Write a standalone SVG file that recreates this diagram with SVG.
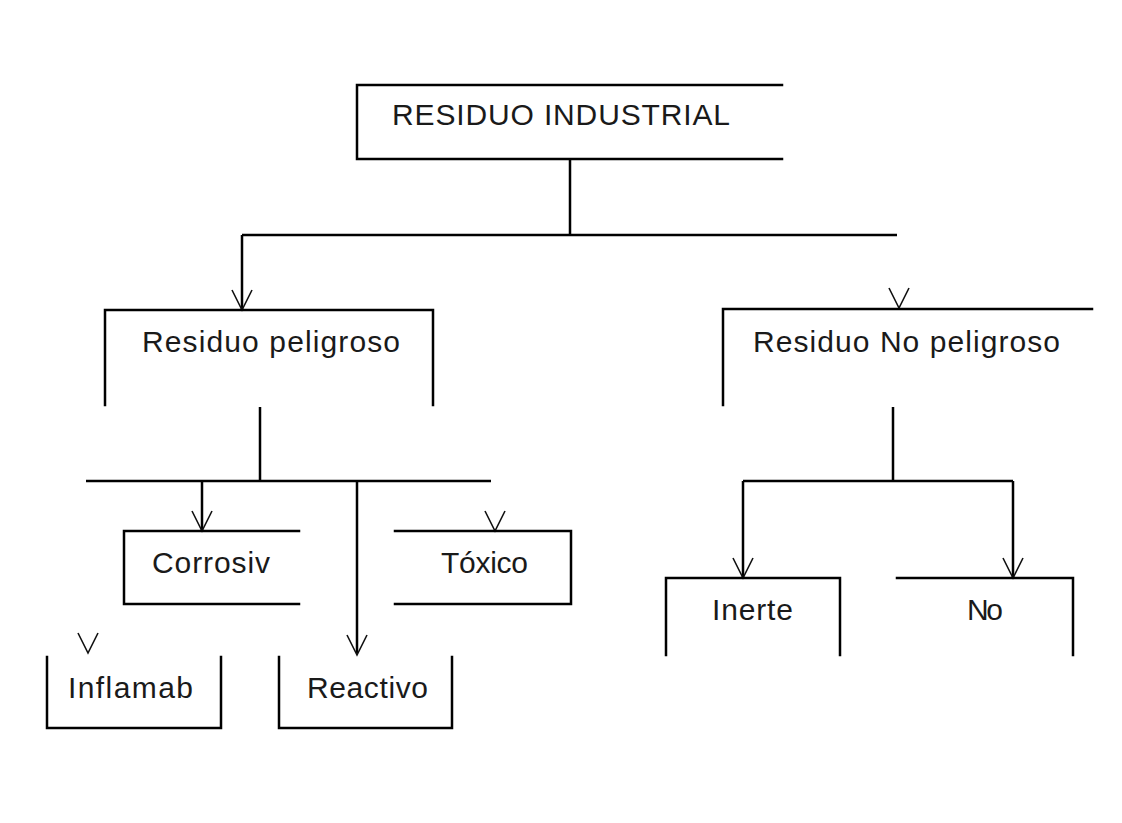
<svg xmlns="http://www.w3.org/2000/svg" width="1122" height="823" viewBox="0 0 1122 823">
<style>
.b{fill:none;stroke:#000;stroke-width:2.5;stroke-linecap:square}
.c{fill:none;stroke:#000;stroke-width:2.5}
.a{fill:none;stroke:#111;stroke-width:1.6}
text{font-family:"Liberation Sans",Arial,sans-serif;font-size:30px;fill:#1a1a1a}
</style>
<defs>
<path id="arr" class="a" d="M-10,-20 L0,0 L10,-20"/>
</defs>
<rect width="1122" height="823" fill="#fff"/>
<g id="connectors">
<path class="c" d="M570,159 V235 M242,235 H897 M242,235 V310"/>
<path class="c" d="M260,407 V481 M86,481 H491 M202,481 V531 M357,481 V653"/>
<path class="c" d="M893,407 V481 M743,481 H1013 M743,481 V578 M1013,481 V578"/>
<use href="#arr" x="242" y="310"/>
<use href="#arr" x="899" y="308"/>
<use href="#arr" x="202" y="531"/>
<use href="#arr" x="495" y="531"/>
<use href="#arr" x="357" y="655"/>
<use href="#arr" x="88" y="653"/>
<use href="#arr" x="743" y="578"/>
<use href="#arr" x="1013" y="578"/>
</g>
<g id="n-industrial">
<path class="b" d="M782,85 H357 V159 H782"/>
<text x="392" y="125" textLength="338" lengthAdjust="spacing">RESIDUO INDUSTRIAL</text>
</g>
<g id="n-peligroso">
<path class="b" d="M105,405 V310 H433 V405"/>
<text x="142" y="352" textLength="258" lengthAdjust="spacing">Residuo peligroso</text>
</g>
<g id="n-nopeligroso">
<path class="b" d="M723,405 V309 H1092"/>
<text x="753" y="352" textLength="307" lengthAdjust="spacing">Residuo No peligroso</text>
</g>
<g id="n-corrosiv">
<path class="b" d="M299,531 H124 V604 H299"/>
<text x="152" y="573" textLength="118" lengthAdjust="spacing">Corrosiv</text>
</g>
<g id="n-toxico">
<path class="b" d="M395,531 H571 V604 H395"/>
<text x="441" y="573" textLength="87" lengthAdjust="spacing">Tóxico</text>
</g>
<g id="n-inflamab">
<path class="b" d="M47,657 V728 H221 V657"/>
<text x="68" y="698" textLength="125" lengthAdjust="spacing">Inflamab</text>
</g>
<g id="n-reactivo">
<path class="b" d="M279,657 V728 H452 V657"/>
<text x="307" y="698" textLength="121" lengthAdjust="spacing">Reactivo</text>
</g>
<g id="n-inerte">
<path class="b" d="M666,655 V578 H840 V655"/>
<text x="712" y="620" textLength="81" lengthAdjust="spacing">Inerte</text>
</g>
<g id="n-no">
<path class="b" d="M897,578 H1073 V655"/>
<text x="967" y="620" textLength="36" lengthAdjust="spacing">No</text>
</g>
</svg>
